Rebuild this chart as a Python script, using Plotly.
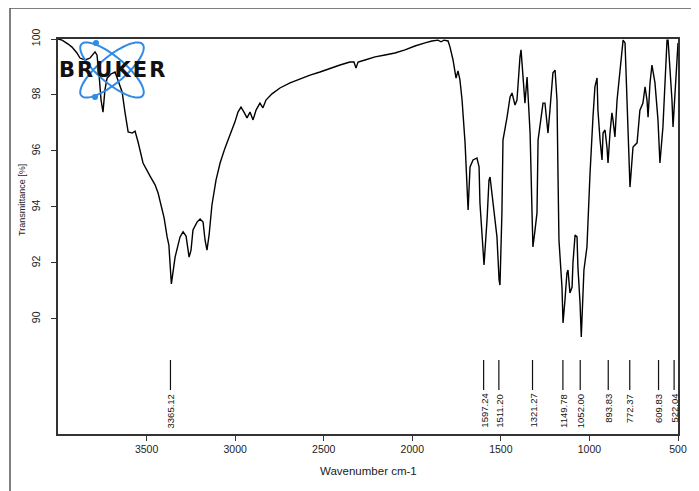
import numpy as np
import plotly.graph_objects as go

# ---- data ----
wavenumber = [4000, 3977, 3943, 3921, 3893, 3876, 3847, 3819, 3791, 3780, 3768, 3757, 3746, 3735, 3723,
              3701, 3678, 3661, 3638, 3622, 3604, 3581, 3565, 3548, 3520, 3481, 3452, 3435, 3418, 3401,
              3384, 3374, 3367, 3360, 3339, 3311, 3294, 3277, 3260, 3249, 3238, 3215, 3198, 3181, 3170,
              3159, 3147, 3131, 3108, 3085, 3057, 3029, 3001, 2984, 2967, 2950, 2933, 2916, 2899, 2882,
              2860, 2843, 2826, 2792, 2747, 2690, 2634, 2577, 2521, 2464, 2408, 2352, 2329, 2318, 2306,
              2267, 2210, 2154, 2098, 2041, 1985, 1928, 1889, 1855, 1838, 1821, 1798, 1787, 1770, 1753,
              1742, 1731, 1719, 1702, 1691, 1685, 1674, 1657, 1635, 1623, 1618, 1601, 1595, 1578, 1567,
              1561, 1550, 1539, 1522, 1510, 1505, 1494, 1488, 1465, 1448, 1437, 1420, 1409, 1403, 1392,
              1386, 1375, 1364, 1352, 1347, 1335, 1324, 1319, 1307, 1296, 1290, 1262, 1251, 1240, 1234,
              1223, 1206, 1194, 1183, 1177, 1172, 1155, 1149, 1138, 1127, 1121, 1110, 1098, 1093, 1081,
              1070, 1065, 1053, 1046, 1036, 1031, 1014, 1008, 997, 980, 969, 957, 952, 940, 929,
              923, 912, 901, 895, 884, 873, 867, 856, 844, 827, 810, 799, 788, 782, 771,
              754, 731, 715, 698, 686, 675, 669, 658, 647, 630, 613, 602, 585, 568, 562,
              556, 545, 534, 528, 517, 506, 500]
transmittance = [100.0, 99.96, 99.82, 99.71, 99.5, 99.32, 99.25, 99.32, 99.54, 99.43, 98.71, 97.82, 97.39, 98.18, 98.6,
                 98.75, 98.82, 98.54, 98.11, 97.39, 96.68, 96.64, 96.71, 96.32, 95.57, 95.11, 94.79, 94.5, 94.07, 93.61,
                 92.93, 92.64, 91.93, 91.25, 92.21, 92.93, 93.11, 92.96, 92.21, 92.46, 93.18, 93.46, 93.57, 93.46, 92.82,
                 92.46, 93.0, 94.07, 94.96, 95.57, 96.11, 96.57, 97.04, 97.39, 97.57, 97.39, 97.18, 97.39, 97.11, 97.46,
                 97.71, 97.54, 97.82, 98.04, 98.25, 98.43, 98.57, 98.71, 98.82, 98.96, 99.07, 99.18, 99.18, 98.96, 99.18,
                 99.25, 99.36, 99.43, 99.5, 99.61, 99.75, 99.86, 99.93, 99.96, 99.9, 99.96, 99.93, 99.71, 99.25, 98.6,
                 98.86, 98.54, 97.82, 96.29, 94.71, 93.89, 95.43, 95.68, 95.75, 95.43, 94.14, 92.21, 91.93, 93.54, 94.96,
                 95.07, 94.43, 93.89, 92.93, 91.39, 91.21, 93.79, 96.39, 97.21, 97.93, 98.07, 97.64, 97.82, 98.43, 99.36,
                 99.61, 98.79, 97.71, 98.64, 97.93, 96.64, 93.79, 92.57, 93.18, 93.79, 96.39, 97.71, 97.71, 97.0, 96.64,
                 97.46, 98.79, 98.89, 97.82, 94.96, 92.82, 91.14, 89.86, 90.68, 91.64, 91.75, 90.93, 91.14, 92.0, 93.0,
                 92.93, 91.86, 90.57, 89.36, 90.68, 91.75, 92.57, 93.54, 95.14, 97.21, 98.29, 98.61, 97.46, 96.39, 95.68,
                 96.64, 96.75, 96.14, 95.57, 96.64, 97.36, 97.11, 96.5, 97.82, 99.0, 99.96, 99.86, 97.82, 96.29, 94.71,
                 96.14, 96.29, 97.46, 97.71, 98.29, 97.82, 97.21, 98.43, 99.07, 98.43, 97.11, 95.57, 96.86, 99.0, 99.96,
                 99.96, 99.0, 97.82, 96.86, 98.07, 99.36, 99.86]

peak_positions = [3365.12, 1597.24, 1511.20, 1321.27, 1149.78, 1052.00, 893.83, 772.37, 609.83, 522.04]
peak_labels = ["3365.12", "1597.24", "1511.20", "1321.27", "1149.78", "1052.00", "893.83", "772.37", "609.83", "522.04"]

x_ticks = [3500, 3000, 2500, 2000, 1500, 1000, 500]
y_ticks = [90, 92, 94, 96, 98, 100]

# ---- layout geometry (window pixels; page body adds an 8px offset) ----
OFF = 8
W, H = 699 - OFF, 491 - OFF
L, R, T, B = 58, 678, 39, 434  # plot area in window pixels


def px(xp):
    return (xp - L) / (R - L)


def py(yp):
    return (B - yp) / (B - T)


fig = go.Figure()
fig.add_trace(go.Scatter(x=wavenumber, y=transmittance, mode="lines",
                         line=dict(color="#000000", width=1.4), hoverinfo="skip"))

shapes = []
annotations = []

# peak markers
for pos, lab in zip(peak_positions, peak_labels):
    shapes.append(dict(type="line", xref="x", yref="paper", x0=pos, x1=pos,
                       y0=py(390), y1=py(360), line=dict(color="#111111", width=1.2)))
    annotations.append(dict(x=pos, y=py(392), xref="x", yref="paper", text=lab,
                            textangle=-90, showarrow=False, xanchor="center", yanchor="top",
                            font=dict(family="Liberation Sans", size=9.5, color="#111111")))

# outer frame
shapes.append(dict(type="rect", xref="paper", yref="paper", x0=px(10), x1=px(693),
                   y0=py(560), y1=py(8), line=dict(color="#555555", width=1.5)))

# Bruker logo ellipses
cx, cy = 112, 70
t = np.linspace(0, 2 * np.pi, 80)
for ang in (40, -40):
    th = np.deg2rad(ang)
    a, b = 40, 13
    xs = cx + a * np.cos(t) * np.cos(th) - b * np.sin(t) * np.sin(th)
    ys = cy + a * np.cos(t) * np.sin(th) + b * np.sin(t) * np.cos(th)
    path = "M " + " L ".join(f"{px(xx):.5f},{py(yy):.5f}" for xx, yy in zip(xs, ys)) + " Z"
    shapes.append(dict(type="path", xref="paper", yref="paper", path=path,
                       line=dict(color="#2e8be6", width=2)))
for (dx, dy) in [(96, 43), (95, 97)]:
    shapes.append(dict(type="circle", xref="paper", yref="paper",
                       x0=px(dx - 3), x1=px(dx + 3), y0=py(dy + 3), y1=py(dy - 3),
                       fillcolor="#2e8be6", line=dict(width=0)))
hs = "\u200a"
annotations.append(dict(x=px(112), y=py(70), xref="paper", yref="paper",
                        text="<b>" + hs.join("BRUKER") + "</b>",
                        showarrow=False, xanchor="center", yanchor="middle",
                        font=dict(family="DejaVu Sans", size=21, color="#111111")))

# axis titles
annotations.append(dict(x=px(22), y=py(200), xref="paper", yref="paper", text="Transmittance [%]",
                        textangle=-90, showarrow=False, xanchor="center", yanchor="middle",
                        font=dict(family="Liberation Sans", size=9, color="#222222")))
annotations.append(dict(x=px(368), y=py(471), xref="paper", yref="paper", text="Wavenumber cm-1",
                        showarrow=False, xanchor="center", yanchor="middle",
                        font=dict(family="Liberation Sans", size=11.5, color="#222222")))

fig.update_layout(
    width=W, height=H,
    margin=dict(l=L - OFF, r=W - (R - OFF), t=T - OFF, b=H - (B - OFF)),
    paper_bgcolor="white", plot_bgcolor="white",
    showlegend=False,
    shapes=shapes, annotations=annotations,
    xaxis=dict(range=[4000, 500], tickvals=x_ticks, ticktext=[str(v) for v in x_ticks],
               showgrid=False, zeroline=False, showline=True, mirror=True,
               linecolor="#333333", linewidth=1.5, ticks="outside", ticklen=5,
               tickcolor="#333333", tickfont=dict(family="Liberation Sans", size=10.5, color="#222222")),
    yaxis=dict(range=[85.89, 100], tickvals=y_ticks, ticktext=[str(v) for v in y_ticks],
               showgrid=False, zeroline=False, showline=True, mirror=True,
               linecolor="#333333", linewidth=1.5, ticks="outside", ticklen=5, tickangle=-90,
               ticklabelstandoff=7,
               tickcolor="#333333", tickfont=dict(family="Liberation Sans", size=10.5, color="#222222")),
)

fig.write_html("out.html")
